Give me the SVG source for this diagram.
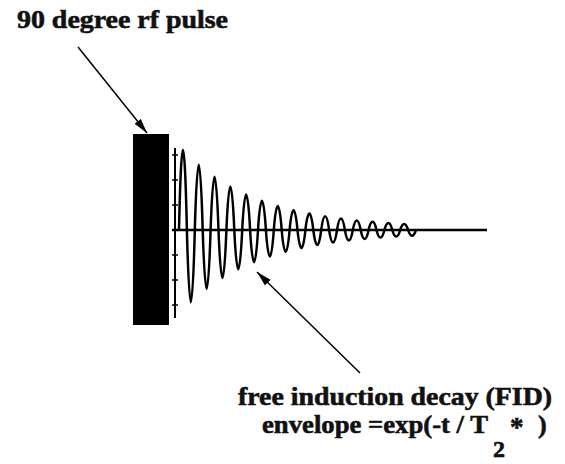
<svg xmlns="http://www.w3.org/2000/svg" width="565" height="464" viewBox="0 0 565 464">
<defs>
<marker id="ah" markerUnits="userSpaceOnUse" markerWidth="16" markerHeight="10" refX="15" refY="4" orient="auto">
<path d="M0,0 L15,4 L0,8 z" fill="#000"/>
</marker>
<style>
.t{font-family:"Liberation Serif","Times New Roman",serif;font-weight:bold;fill:#111;stroke:#111;stroke-width:0.6;}
.ln{stroke:#000;fill:none;}
</style>
</defs>
<rect width="565" height="464" fill="#fff"/>
<g id="pulse">
<rect x="133" y="134" width="36" height="191" fill="#000"/>
</g>
<g id="axes">
<line class="ln" x1="175" y1="148" x2="175" y2="318" stroke-width="2"/>
<path class="ln" stroke-width="1.5" d="M172,155h6M172,180h6M172,205h6M172,255h6M172,280h6M172,305h6"/>
<line class="ln" x1="172" y1="230" x2="487" y2="230" stroke-width="2.5"/>
</g>
<g id="fid">
<path class="ln" stroke-width="2.5" stroke-linejoin="round" d="M179,230
c2.4,-106.7 5.5,-106.7 7.9,0
c2.4,96.3 5.5,96.3 7.9,0
c2.4,-86.9 5.5,-86.9 7.9,0
c2.4,78.5 5.5,78.5 7.9,0
c2.4,-70.9 5.5,-70.9 7.9,0
c2.4,64 5.5,64 7.9,0
c2.4,-57.9 5.5,-57.9 7.9,0
c2.4,52.4 5.5,52.4 7.9,0
c2.4,-47.3 5.5,-47.3 7.9,0
c2.4,42.9 5.5,42.9 7.9,0
c2.4,-38.9 5.5,-38.9 7.9,0
c2.4,35.3 5.5,35.3 7.9,0
c2.4,-32 5.5,-32 7.9,0
c2.4,29.1 5.5,29.1 7.9,0
c2.4,-26.5 5.5,-26.5 7.9,0
c2.4,24.1 5.5,24.1 7.9,0
c2.4,-21.9 5.5,-21.9 7.9,0
c2.4,20 5.5,20 7.9,0
c2.4,-18.3 5.5,-18.3 7.9,0
c2.4,16.7 5.5,16.7 7.9,0
c2.4,-15.3 5.5,-15.3 7.9,0
c2.4,14 5.5,14 7.9,0
c2.4,-12.8 5.5,-12.8 7.9,0
c2.4,11.9 5.5,11.9 7.9,0
c2.4,-10.9 5.5,-10.9 7.9,0
c2.4,10.1 5.5,10.1 7.9,0
c2.4,-9.5 5.5,-9.5 7.9,0
c2.4,8.7 5.5,8.7 7.9,0
c2.4,-8.1 5.5,-8.1 7.9,0
c2.4,7.6 5.5,7.6 7.9,0"/>
</g>
<g id="connectors">
<line class="ln" x1="78" y1="47" x2="147" y2="133" stroke-width="1.5" marker-end="url(#ah)"/>
<line class="ln" x1="360" y1="373" x2="257" y2="272" stroke-width="1.5" marker-end="url(#ah)"/>
</g>
<g id="label-pulse">
<text class="t" x="17" y="28" font-size="26" textLength="211" lengthAdjust="spacingAndGlyphs">90 degree rf pulse</text>
</g>
<g id="label-fid">
<text class="t" x="238" y="405" font-size="26" textLength="314" lengthAdjust="spacingAndGlyphs">free induction decay (FID)</text>
<text class="t" x="262" y="433" font-size="26" textLength="226" lengthAdjust="spacingAndGlyphs">envelope =exp(-t / T</text>
<text class="t" x="493" y="457" font-size="24">2</text>
<text class="t" x="510" y="436" font-size="27">*</text>
<text class="t" x="538" y="433" font-size="26">)</text>
</g>
</svg>
